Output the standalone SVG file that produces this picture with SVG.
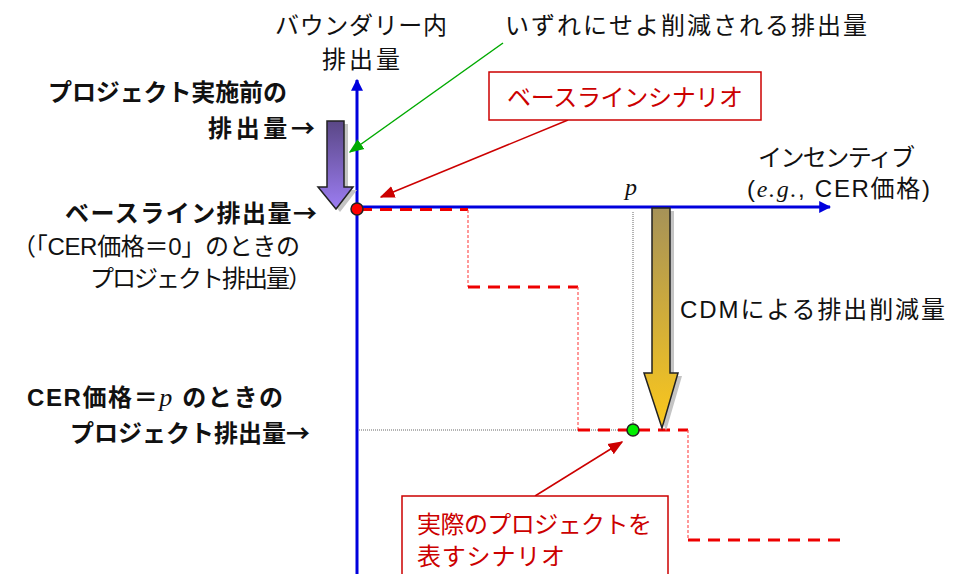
<svg xmlns="http://www.w3.org/2000/svg" width="953" height="574" viewBox="0 0 953 574">
<style>
text{font-family:"Liberation Sans","Noto Sans CJK JP",sans-serif;font-size:24px;fill:#111}
.b{font-weight:bold}
.r{fill:#cc0000}
.it{font-family:"Liberation Serif",serif;font-style:italic}
.arr{font-family:"Noto Sans CJK JP",sans-serif}
.axis{stroke:#0000dd;stroke-width:3;fill:none}
.dash{stroke:#ee0000;stroke-width:3;stroke-dasharray:12 8;fill:none}
.dot{stroke:#ff5555;stroke-width:1.2;stroke-dasharray:3 2;fill:none}
.gdot{stroke:#666;stroke-width:1;stroke-dasharray:1 1;fill:none}
.box{fill:#fff;stroke:#cc0000;stroke-width:1.5}
</style>
<defs>
<marker id="ab" viewBox="0 0 10 10" refX="9" refY="5" markerWidth="4" markerHeight="4" orient="auto" markerUnits="strokeWidth"><path d="M0,0L10,5L0,10z" fill="#0000dd"/></marker>
<marker id="ar" viewBox="0 0 10 10" refX="9" refY="5" markerWidth="10" markerHeight="10" orient="auto" markerUnits="strokeWidth"><path d="M0,1L10,5L0,9z" fill="#cc0000"/></marker>
<marker id="ag" viewBox="0 0 10 10" refX="9" refY="5" markerWidth="10" markerHeight="10" orient="auto" markerUnits="strokeWidth"><path d="M0,1L10,5L0,9z" fill="#00aa00"/></marker>
<linearGradient id="gp" x1="0" y1="0" x2="0" y2="1"><stop offset="0" stop-color="#5a4786"/><stop offset="1" stop-color="#9c7df2"/></linearGradient>
<linearGradient id="gy" x1="0" y1="0" x2="0" y2="1"><stop offset="0" stop-color="#a69258"/><stop offset="1" stop-color="#fbc81c"/></linearGradient>
</defs>

<g id="axes">
<line class="axis" x1="357" y1="574" x2="357" y2="80" marker-end="url(#ab)"/>
<line class="axis" x1="357" y1="207" x2="830" y2="207" marker-end="url(#ab)"/>
</g>

<g id="guides">
<line class="gdot" x1="633" y1="212" x2="633" y2="424"/>
<line class="gdot" x1="359" y1="430" x2="627" y2="430"/>
</g>

<g id="scenario-line">
<line class="dash" x1="360" y1="209.5" x2="468" y2="209.5"/>
<line class="dot" x1="468" y1="210" x2="468" y2="287"/>
<line class="dash" x1="468" y1="287" x2="578" y2="287"/>
<line class="dot" x1="578" y1="287" x2="578" y2="430"/>
<line class="dash" x1="578" y1="430" x2="688" y2="430"/>
<line class="dot" x1="688" y1="430" x2="688" y2="540"/>
<line class="dash" x1="688" y1="540" x2="848" y2="540"/>
</g>

<g id="arrow-purple">
<polygon points="331,124 348,124 348,190 357,190 340,212 322,190 331,190" fill="#c4c4c4"/>
<polygon points="327,121 344,121 344,187 353,187 336,209 318,187 327,187" fill="url(#gp)" stroke="#222" stroke-width="1.5"/>
</g>

<g id="arrow-yellow">
<polygon points="656,211 674,211 674,376 682,376 666,431 648,376 656,376" fill="#c4c4c4"/>
<polygon points="652,208 670,208 670,373 678,373 662,428 644,373 652,373" fill="url(#gy)" stroke="#222" stroke-width="1.5"/>
</g>

<g id="points">
<circle cx="357" cy="209" r="6" fill="#ff0000" stroke="#222" stroke-width="1.5"/>
<circle cx="633" cy="430" r="6" fill="#00ee00" stroke="#222" stroke-width="1.5"/>
</g>

<g id="connectors">
<line x1="503" y1="43" x2="350" y2="152" stroke="#00aa00" stroke-width="1.5" marker-end="url(#ag)"/>
<line x1="568" y1="120" x2="381" y2="197" stroke="#cc0000" stroke-width="1.5" marker-end="url(#ar)"/>
<line x1="535" y1="496" x2="622" y2="442" stroke="#cc0000" stroke-width="1.5" marker-end="url(#ar)"/>
</g>

<g id="y-label">
<text x="275" y="34" textLength="172">バウンダリー内</text>
<text x="322" y="68" textLength="78">排出量</text>
</g>

<g id="reduced-label">
<text x="505" y="34" textLength="362">いずれにせよ削減される排出量</text>
</g>

<g id="baseline-box">
<rect class="box" x="489" y="72" width="272" height="48"/>
<text class="r" x="507" y="106" textLength="236">ベースラインシナリオ</text>
</g>

<g id="x-label">
<text x="758" y="166" textLength="157">インセンティブ</text>
<text x="747" y="197" textLength="183">(<tspan class="it">e.g.</tspan>, CER価格)</text>
<text class="it" x="625" y="195" font-size="26">p</text>
</g>

<g id="left-labels">
<text class="b" x="48" y="101" textLength="239">プロジェクト実施前の</text>
<text class="b" x="208" y="137" textLength="107">排出量<tspan class="arr">→</tspan></text>
<text class="b" x="65" y="222" textLength="252">ベースライン排出量<tspan class="arr">→</tspan></text>
<text x="12" y="255" textLength="288">（「CER価格＝0」のときの</text>
<text x="90" y="287" textLength="222">プロジェクト排出量）</text>
<text class="b" x="27" y="406" textLength="256">CER価格＝<tspan class="it" style="font-weight:normal" font-size="26">p</tspan> のときの</text>
<text class="b" x="70" y="442" textLength="240">プロジェクト排出量<tspan class="arr">→</tspan></text>
</g>

<g id="cdm-label">
<text x="680" y="318" textLength="265">CDMによる排出削減量</text>
</g>

<g id="actual-box">
<rect class="box" x="402" y="496" width="266" height="100"/>
<text class="r" x="417" y="533" textLength="235">実際のプロジェクトを</text>
<text class="r" x="417" y="565" textLength="148">表すシナリオ</text>
</g>
</svg>
